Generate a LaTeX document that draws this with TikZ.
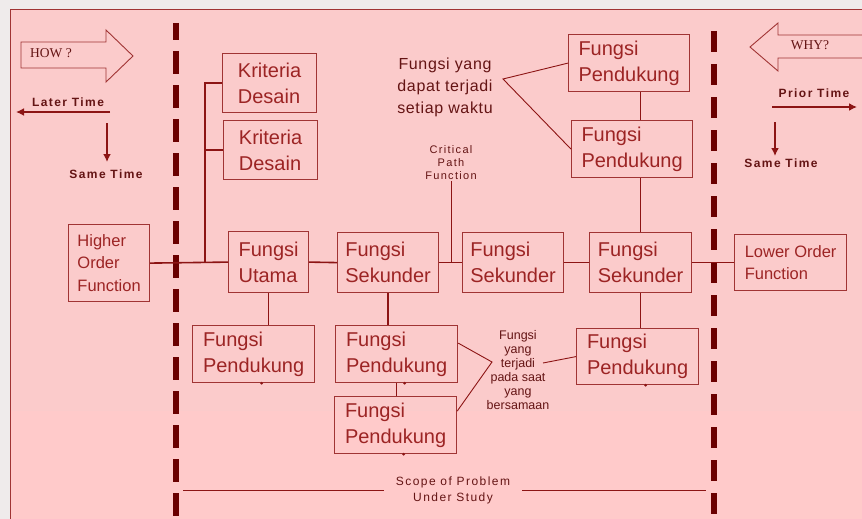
\documentclass[tikz,border=0pt]{standalone}
\usepackage{fontspec}
\setmainfont{Liberation Sans}
\newfontfamily\howface{Liberation Serif}
\newfontfamily\noteface[LetterSpace=12]{Liberation Sans}
\newfontfamily\waktuface[LetterSpace=4]{Liberation Sans}
\usetikzlibrary{arrows.meta,positioning}
\definecolor{paper}{HTML}{FBCBCB}
\definecolor{paperLow}{HTML}{FFCACA}
\definecolor{outside}{HTML}{EFEBEB}
\definecolor{ink}{HTML}{9C2424}
\definecolor{note}{HTML}{641414}
\definecolor{wire}{HTML}{8C1414}
\definecolor{edge}{HTML}{A03434}
\definecolor{scope}{HTML}{6A0000}

\tikzset{
  fbox/.style={draw=edge,line width=1.2pt,text=ink,anchor=north west,inner sep=1pt,
    align=left,font=\fontsize{20}{26}\selectfont},
  ebox/.style={fbox,font=\fontsize{16.5}{22.5}\selectfont},
  wireline/.style={draw=wire,line width=1.6pt},
  thinwire/.style={draw=wire,line width=0.9pt},
  timearrow/.style={draw=wire,line width=2.4pt,-{Latex[length=8pt,width=8pt]}},
  timelabel/.style={text=note,inner sep=0pt,font=\noteface\fontsize{12}{14}\bfseries\selectfont},
  smallnote/.style={text=note,inner sep=1pt,align=center},
  boundary/.style={draw=scope,line width=6pt},
  qarrow/.style={draw=edge,line width=0.9pt,fill=paper},
}

\begin{document}
\begin{tikzpicture}[x=1pt,y=-1pt]
  \path[use as bounding box] (0,0) rectangle (862,519);
  \clip (0,0) rectangle (862,519);
  \fill[outside] (0,0) rectangle (862,519);
  \fill[paper] (10,10) rectangle (880,411);
  \fill[paperLow] (10,411) rectangle (880,530);
  \draw[edge,line width=1pt] (10,530) -- (10,10) -- (880,10);

  % scope boundaries
  \draw[boundary,dash pattern=on 23pt off 11pt,dash phase=6pt] (176,23) -- (176,530);
  \draw[boundary,dash pattern=on 21pt off 12pt] (714,31) -- (714,530);

  % how / why
  \draw[qarrow] (21,42) -- (106,42) -- (106,30) -- (133,56) -- (106,82) -- (106,68) -- (21,68) -- cycle;
  \node[text=note,inner sep=0pt,anchor=west,font=\howface\fontsize{13.5}{15}\selectfont] (how) at (30,53) {HOW ?};
  \draw[qarrow] (880,35) -- (778,35) -- (778,23) -- (750,47) -- (778,71) -- (778,58) -- (880,58) -- cycle;
  \node[text=note,inner sep=0pt,font=\howface\fontsize{13.5}{15}\selectfont] (why) at (810,45) {WHY?};

  \node[timelabel] (later) at (68,102) {Later Time};
  \coordinate (laterTail) at (110,112);
  \coordinate (laterHead) at (16,112);
  \draw[timearrow] (laterTail) -- (laterHead);
  \coordinate (sameLTail) at (107,123);
  \coordinate (sameLHead) at (107,162);
  \draw[timearrow] (sameLTail) -- (sameLHead);
  \node[timelabel] (sameL) at (106,174) {Same Time};

  \node[timelabel] (prior) at (814,93) {Prior Time};
  \coordinate (priorTail) at (772,107);
  \coordinate (priorHead) at (857,107);
  \draw[timearrow] (priorTail) -- (priorHead);
  \coordinate (sameRTail) at (775,122);
  \coordinate (sameRHead) at (775,156);
  \draw[timearrow] (sameRTail) -- (sameRHead);
  \node[timelabel] (sameR) at (781,163) {Same Time};

  % function boxes
  \node[fbox,minimum width=94pt,minimum height=59pt] (kd1) at (222,53) {Kriteria\\Desain};
  \node[fbox,minimum width=94pt,minimum height=59pt] (kd2) at (223,120) {Kriteria\\Desain};
  \node[ebox,minimum width=81pt,minimum height=77pt] (hof) at (68,224) {Higher\\Order\\Function};
  \node[fbox,minimum width=80pt,minimum height=61pt] (fu) at (228,231) {Fungsi\\Utama};
  \node[fbox,minimum width=101pt,minimum height=60pt] (fs1) at (337,232) {Fungsi\\Sekunder};
  \node[fbox,minimum width=101pt,minimum height=60pt] (fs2) at (462,232) {Fungsi\\Sekunder};
  \node[fbox,minimum width=102pt,minimum height=60pt] (fs3) at (589,232) {Fungsi\\Sekunder};
  \node[ebox,minimum width=112pt,minimum height=56pt] (lof) at (734,234) {Lower Order\\Function};
  \node[fbox,minimum width=121pt,minimum height=57pt] (fpA) at (568,34) {Fungsi\\Pendukung};
  \node[fbox,minimum width=121pt,minimum height=57pt] (fpB) at (571,120) {Fungsi\\Pendukung};
  \node[fbox,minimum width=122pt,minimum height=57pt] (fpC) at (192,325) {Fungsi\\Pendukung};
  \node[fbox,minimum width=122pt,minimum height=57pt] (fpD) at (335,325) {Fungsi\\Pendukung};
  \node[fbox,minimum width=122pt,minimum height=57pt] (fpE) at (334,396) {Fungsi\\Pendukung};
  \node[fbox,minimum width=122pt,minimum height=56pt] (fpF) at (576,328) {Fungsi\\Pendukung};

  % notes
  \node[smallnote,font=\waktuface\fontsize{16}{22}\selectfont] (anyTime) at (445,87) {Fungsi yang\\dapat terjadi\\setiap waktu};
  \node[smallnote,font=\noteface\fontsize{11}{13}\selectfont] (cpf) at (451,163) {Critical\\Path\\Function};
  \node[smallnote,font=\fontsize{12.5}{14}\selectfont] (simul) at (518,370) {Fungsi\\yang\\terjadi\\pada saat\\yang\\bersamaan};
  \node[smallnote,inner xsep=12pt,font=\noteface\fontsize{12}{16}\selectfont] (scopeLbl) at (453,490) {Scope of Problem\\Under Study};

  % main chain
  \draw[wireline] (hof.east) -- (fu.west);
  \draw[wireline] (fu.east) -- (fs1.west);
  \draw[wireline] (fs1.east) -- (fs2.west);
  \draw[wireline] (fs2.east) -- (fs3.west);
  \draw[wireline] (fs3.east) -- (lof.west);
  \draw[thinwire] (cpf.south) -- (cpf.south |- fs2.west);

  % criteria bus
  \coordinate (kdBus) at (205,0);
  \draw[wireline] (kd1.west) -- (kd1.west -| kdBus) -- (kdBus |- fu.west);
  \draw[wireline] (kd2.west) -- (kd2.west -| kdBus);

  % supporting functions
  \draw[wireline] (fu.south) -- (fu.south |- fpC.north);
  \draw[wireline] (fs1.south) -- (fs1.south |- fpD.north);
  \draw[wireline] (fpD.south) -- (fpD.south |- fpE.north);
  \draw[wireline] (fs3.south) -- (fs3.south |- fpF.north);
  \draw[wireline] (fs3.north) -- (fs3.north |- fpB.south);
  \draw[wireline] (fs3.north |- fpB.north) -- (fs3.north |- fpA.south);
  \foreach \n in {fpC,fpD,fpE,fpF}
    \fill[wire] ([xshift=8pt]\n.south) circle (1.5pt);

  % note leaders
  \coordinate (anyJoin) at (503,79);
  \draw[thinwire] (fpA.west) -- (anyJoin) -- (fpB.west);
  \coordinate (simJoin) at (492,362);
  \coordinate (simTail) at (543,363);
  \draw[thinwire] ([yshift=11pt]fpD.east) -- (simJoin) -- ([yshift=14pt]fpE.east);
  \draw[thinwire] (simTail) -- (fpF.west);

  % scope of problem
  \coordinate (scopeL) at (183,490);
  \coordinate (scopeR) at (706,490);
  \draw[thinwire] (scopeL) -- (scopeLbl.west);
  \draw[thinwire] (scopeLbl.east) -- (scopeR);
\end{tikzpicture}
\end{document}
